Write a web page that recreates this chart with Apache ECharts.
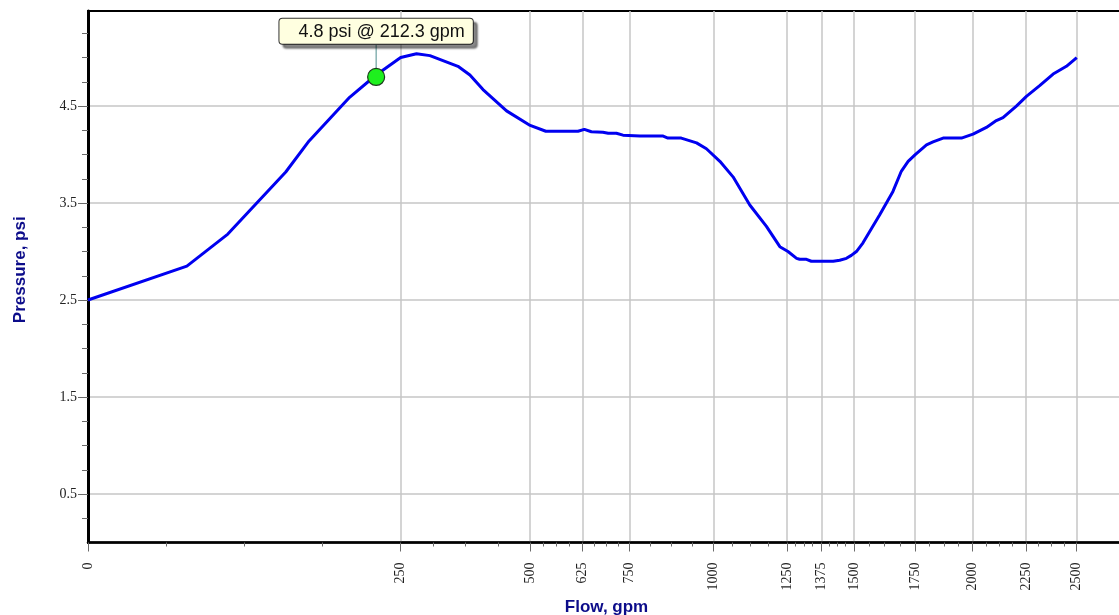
<!DOCTYPE html>
<html>
<head>
<meta charset="utf-8">
<script src="https://cdn.jsdelivr.net/npm/echarts@6/dist/echarts.min.js"></script>
<style>
  html, body { margin: 0; padding: 0; background: #ffffff; }
  #chart { width: 1119px; height: 615px; }
</style>
</head>
<body>
<div id="chart"></div>
<script>
// Pump curve: pressure (psi) against flow (gpm)
const flowGpm = [
  0, 25, 50, 100, 125, 175, 212.3, 250, 276, 299, 350, 373, 399, 448, 500,
  536, 614, 630, 648, 678, 692, 714, 732, 779, 846, 860, 900, 947, 978,
  1021, 1064, 1120, 1177, 1224, 1253, 1284, 1295, 1320, 1338, 1420, 1445,
  1471, 1490, 1510, 1536, 1603, 1657, 1692, 1720, 1750, 1798, 1826, 1870,
  1951, 2003, 2064, 2110, 2141, 2204, 2252, 2316, 2382, 2448, 2500
];
const pressurePsi = [
  2.50, 2.85, 3.18, 3.82, 4.14, 4.59, 4.82, 5.00, 5.04, 5.02, 4.91, 4.82, 4.67, 4.45, 4.30,
  4.24, 4.24, 4.26, 4.235, 4.23, 4.22, 4.22, 4.20, 4.19, 4.19, 4.17, 4.17, 4.12, 4.06,
  3.93, 3.77, 3.48, 3.26, 3.05, 3.00, 2.93, 2.92, 2.92, 2.90, 2.90, 2.91,
  2.93, 2.96, 3.00, 3.09, 3.38, 3.62, 3.83, 3.93, 4.00, 4.10, 4.13, 4.17,
  4.17, 4.21, 4.28, 4.35, 4.38, 4.50, 4.60, 4.71, 4.83, 4.91, 5.00
];

// Highlighted operating point
const pointFlow = 212.3;
const pointPressure = 4.8;

// Axis ticks
const flowMajorTicks = [0, 250, 500, 625, 750, 1000, 1250, 1375, 1500, 1750, 2000, 2250, 2500];
const flowAxisMax = 2750;
const pressureMajorTicks = [0.5, 1.5, 2.5, 3.5, 4.5];
const pressureMinorStep = 0.25;
const pressureAxisMax = 5.48;

// The flow axis is a square-root scale: values are plotted as sqrt(flow)
const sq = Math.sqrt;

// Three minor ticks evenly spaced between neighbouring major ticks on the sqrt scale
const flowMinorTicks = [];
for (let i = 0; i < flowMajorTicks.length - 1; i++) {
  const a = sq(flowMajorTicks[i]);
  const b = sq(flowMajorTicks[i + 1]);
  for (let k = 1; k < 4; k++) flowMinorTicks.push(a + (b - a) * k / 4);
}
const pressureMinorTicks = [];
for (let v = pressureMinorStep; v < pressureAxisMax; v += pressureMinorStep) {
  pressureMinorTicks.push(+v.toFixed(2));
}

const curveData = flowGpm.map((f, i) => [sq(f), pressurePsi[i]]);

const serifText = { fontFamily: 'Liberation Serif', fontSize: 14, color: '#222' };
const nameText = { fontFamily: 'Liberation Sans', fontWeight: 'bold', fontSize: 17, color: '#0c0c8a' };
const tickColor = '#6a6a6a';
const gridLine = { color: '#c6c6c6', width: 1.5 };

const chart = echarts.init(document.getElementById('chart'), null, { renderer: 'canvas' });

chart.setOption({
  animation: false,
  backgroundColor: '#ffffff',
  grid: {
    left: 88, top: 11, width: 1037, height: 531.5,
    outerBoundsMode: 'none', containLabel: false,
    show: true, borderColor: '#000', borderWidth: 2, backgroundColor: 'transparent'
  },
  xAxis: [
    {
      type: 'value', position: 'bottom', min: 0, max: sq(flowAxisMax),
      name: 'Flow, gpm', nameLocation: 'middle', nameGap: 48, nameTextStyle: nameText,
      axisLine: { show: true, onZero: false, lineStyle: { color: '#000', width: 2.5 } },
      axisTick: { show: true, customValues: flowMajorTicks.map(sq), length: 9, lineStyle: { color: tickColor } },
      axisLabel: Object.assign({
        customValues: flowMajorTicks.map(sq), rotate: 90, margin: 20,
        formatter: v => String(Math.round(v * v))
      }, serifText),
      splitLine: { show: true, lineStyle: gridLine }
    },
    {
      type: 'value', position: 'bottom', offset: 0, min: 0, max: sq(flowAxisMax),
      axisLine: { show: false },
      axisTick: { show: true, customValues: flowMinorTicks, length: 4, lineStyle: { color: tickColor } },
      axisLabel: { show: false },
      splitLine: { show: false }
    }
  ],
  yAxis: [
    {
      type: 'value', position: 'left', min: 0, max: pressureAxisMax,
      name: 'Pressure, psi', nameLocation: 'middle', nameGap: 59,
      nameTextStyle: Object.assign({ padding: [0, 0, 0, 14] }, nameText),
      axisLine: { show: true, onZero: false, lineStyle: { color: '#000', width: 3 } },
      axisTick: { show: true, customValues: pressureMajorTicks, length: 10, lineStyle: { color: tickColor } },
      axisLabel: Object.assign({
        customValues: pressureMajorTicks, margin: 11,
        formatter: v => v.toFixed(1)
      }, serifText),
      splitLine: { show: true, lineStyle: gridLine }
    },
    {
      type: 'value', position: 'left', offset: 0, min: 0, max: pressureAxisMax,
      axisLine: { show: false },
      axisTick: { show: true, customValues: pressureMinorTicks, length: 6, lineStyle: { color: tickColor } },
      axisLabel: { show: false },
      splitLine: { show: false }
    }
  ],
  series: [
    {
      type: 'line', xAxisIndex: 0, yAxisIndex: 0,
      data: curveData, showSymbol: false, smooth: false, z: 3,
      lineStyle: { color: '#0000f0', width: 3 }
    },
    {
      type: 'scatter', xAxisIndex: 0, yAxisIndex: 0, z: 5,
      data: [[sq(pointFlow), pointPressure]],
      symbol: 'circle', symbolSize: 17,
      itemStyle: { color: '#1ef01e', opacity: 1, borderColor: '#1b3b1b', borderWidth: 1.2 },
      label: {
        show: true, position: 'top', distance: 5,
        formatter: () => pointPressure.toFixed(1) + ' psi @ ' + pointFlow.toFixed(1) + ' gpm',
        fontFamily: 'Liberation Sans', fontSize: 18, color: '#111',
        backgroundColor: '#ffffe0', borderColor: '#333', borderWidth: 1, borderRadius: 3,
        padding: [4, 8, 3, 19],
        shadowColor: 'rgba(0,0,0,0.45)', shadowOffsetX: 4, shadowOffsetY: 4, shadowBlur: 2
      },
      labelLayout: { dy: -19 },
      labelLine: { show: true, lineStyle: { color: '#4d8c8c', width: 1 } }
    }
  ]
});
</script>
</body>
</html>
